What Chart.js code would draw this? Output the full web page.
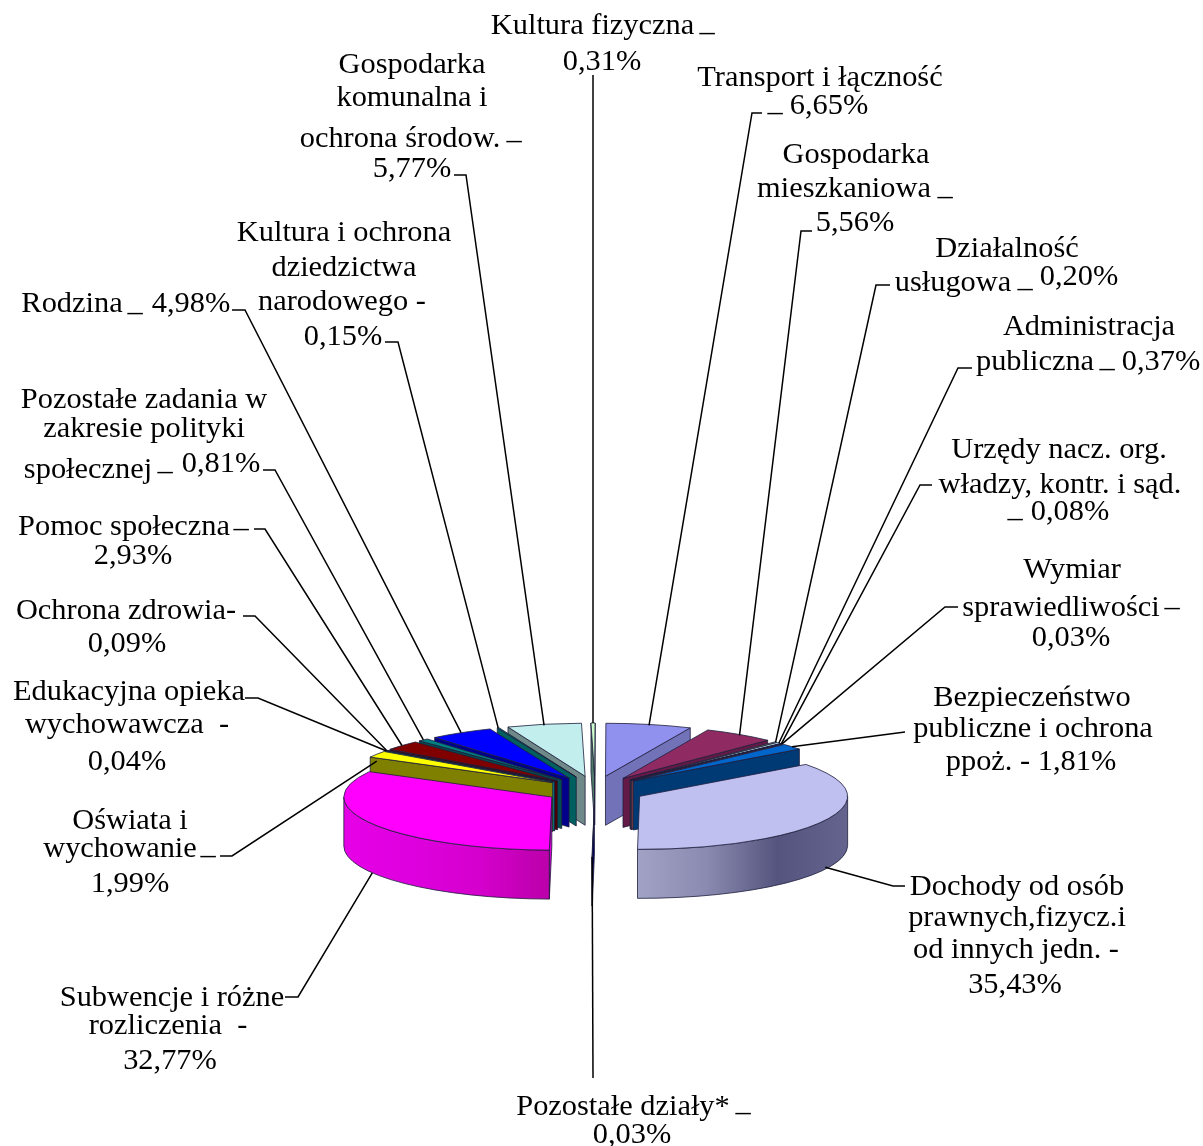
<!DOCTYPE html>
<html lang="pl">
<head>
<meta charset="utf-8">
<title>Struktura dochodów</title>
<style>
    html, body { margin: 0; padding: 0; background: #fff; }
    canvas { display: block; }
</style>
<script src="https://cdn.jsdelivr.net/npm/chart.js@4"></script>
</head>
<body>
<canvas id="chart1" width="1203" height="1146"></canvas>
<script>
const categories = [
    "Kultura fizyczna", "Transport i łączność", "Gospodarka mieszkaniowa", "Działalność usługowa",
    "Administracja publiczna", "Urzędy nacz. org. władzy, kontr. i sąd.", "Wymiar sprawiedliwości",
    "Bezpieczeństwo publiczne i ochrona ppoż.", "Dochody od osób prawnych,fizycz.i od innych jedn.",
    "Pozostałe działy*", "Subwencje i różne rozliczenia", "Oświata i wychowanie",
    "Edukacyjna opieka wychowawcza", "Ochrona zdrowia", "Pomoc społeczna",
    "Pozostałe zadania w zakresie polityki społecznej", "Rodzina",
    "Kultura i ochrona dziedzictwa narodowego", "Gospodarka komunalna i ochrona środow."
];
const shares = [0.31, 6.65, 5.56, 0.20, 0.37, 0.08, 0.03, 1.81, 35.43, 0.03, 32.77, 1.99, 0.04, 0.09, 2.93, 0.81, 4.98, 0.15, 5.77];

const topColors = [
    "#ccffcc", "#9090ee", "#8f2a62", "#ffffcc", "#ccffff", "#660066", "#ff8080", "#0066cc", "#bfbff0",
    "#000080", "#ff00ff", "#ffff00", "#00ffff", "#800080", "#800000", "#008080", "#0000ff", "#008080", "#c2eeee"
];
const wallColors = [
    "#4f7a6a", "#7272b8", "#641a46", "#808060", "#608080", "#400040", "#804040", "#003a75", "#8a8ab0",
    "#000060", "#d800d8", "#808000", "#008080", "#500050", "#4a0000", "#005050", "#00008c", "#005f5f", "#6f8888"
];
// outer wall shading left to right, only the two big slices show it
const wallShades = {
    8: ["#a2a2c6", "#8a8ab0", "#54547e", "#64648e"],
    10: ["#e600e6", "#de00de", "#d400cc", "#bb00aa"]
};

// stub next to the label: [x at text, y, x of elbow], one per slice
const leaderStubs = [
    [593, 75, 593], [762, 113, 752], [812, 231, 801], [890, 285, 876], [972, 368, 958], [932, 485, 920],
    [958, 607, 945], [905, 732, 905], [905, 886, 893], [593, 1078, 593], [285, 997, 298], [220, 856, 232],
    [245, 698, 258], [243, 616, 255], [254, 529, 265], [263, 470, 275], [232, 310, 245], [385, 342, 398],
    [454, 175, 466]
];
// how far down the wall a leader ends
const leaderDrop = [0, 1, 1, 0, 0, 0, 0, 0, 47, 0, 49, 7, 0, 0, 0, 0, 0, 0, 1];

// [text, center x, baseline]
const labelLines = [
    ["Kultura fizyczna", 592.5, 34], ["–", 707, 41], ["0,31%", 602, 70],
    ["Transport i łączność", 820, 86], ["–", 775, 121], ["6,65%", 829, 114],
    ["Gospodarka", 856, 163], ["mieszkaniowa", 844, 197], ["–", 945, 205], ["5,56%", 855, 231],
    ["Działalność", 1007, 257], ["usługowa", 953, 291], ["–", 1025, 297], ["0,20%", 1079, 285],
    ["Administracja", 1089, 335], ["publiczna", 1035, 370], ["–", 1107, 377], ["0,37%", 1161, 370],
    ["Urzędy nacz. org.", 1059, 458], ["władzy, kontr. i sąd.", 1060, 493], ["–", 1015, 527], ["0,08%", 1070, 520],
    ["Wymiar", 1072, 578], ["sprawiedliwości", 1061, 616], ["–", 1172, 616], ["0,03%", 1071, 646],
    ["Bezpieczeństwo", 1032, 706], ["publiczne i ochrona", 1033, 737], ["ppoż. - 1,81%", 1031, 770],
    ["Dochody od osób", 1017, 895], ["prawnych,fizycz.i", 1017, 926], ["od innych jedn. -", 1016, 958], ["35,43%", 1015, 993],
    ["Pozostałe działy*", 623, 1115], ["–", 743, 1121], ["0,03%", 632, 1143],
    ["Subwencje i różne", 172, 1006], ["rozliczenia  -", 168, 1034], ["32,77%", 170, 1069],
    ["Oświata i", 130, 829], ["wychowanie", 120, 857], ["–", 208, 864], ["1,99%", 130, 892],
    ["Edukacyjna opieka", 129, 700], ["wychowawcza  -", 127, 733], ["0,04%", 127, 770],
    ["Ochrona zdrowia-", 126, 619], ["0,09%", 127, 652],
    ["Pomoc społeczna", 124, 535], ["–", 241, 537], ["2,93%", 133, 564],
    ["Pozostałe zadania w", 144, 408], ["zakresie polityki", 144, 437], ["społecznej", 88, 478], ["–", 165, 480], ["0,81%", 221, 472],
    ["Rodzina", 72, 312], ["–", 135, 321], ["4,98%", 191, 312],
    ["Kultura i ochrona", 344, 241], ["dziedzictwa", 344, 276], ["narodowego -", 342, 310], ["0,15%", 343, 345],
    ["Gospodarka", 412, 73], ["komunalna i", 412, 106], ["ochrona środow.", 400, 147], ["–", 514, 149], ["5,77%", 412, 177]
];

const tilt = 0.255;
const explode = 50;
const explodeTilt = 0.28;
const depth = 49;
const outline = "rgba(30, 30, 60, 0.8)";

function sliceOrigin(arc) {
    const mid = (arc.startAngle + arc.endAngle) / 2;
    return {
        x: arc.x + Math.cos(mid) * explode,
        y: arc.y + Math.sin(mid) * explode * explodeTilt
    };
}

function drawRadialWall(ctx, o, angle, r, color) {
    const ex = o.x + Math.cos(angle) * r;
    const ey = o.y + Math.sin(angle) * r * tilt;
    ctx.beginPath();
    ctx.moveTo(o.x, o.y);
    ctx.lineTo(ex, ey);
    ctx.lineTo(ex, ey + depth);
    ctx.lineTo(o.x, o.y + depth);
    ctx.closePath();
    ctx.fillStyle = color;
    ctx.fill();
    ctx.stroke();
}

function drawOuterWall(ctx, o, from, to, r, i) {
    ctx.beginPath();
    ctx.save();
    ctx.translate(o.x, o.y);
    ctx.scale(1, tilt);
    ctx.arc(0, 0, r, from, to);
    ctx.restore();
    ctx.save();
    ctx.translate(o.x, o.y + depth);
    ctx.scale(1, tilt);
    ctx.arc(0, 0, r, to, from, true);
    ctx.restore();
    ctx.closePath();
    const shades = wallShades[i];
    if (shades) {
        const xs = [from, to].map((a) => o.x + Math.cos(a) * r);
        const g = ctx.createLinearGradient(Math.min(...xs), 0, Math.max(...xs), 0);
        shades.forEach((c, k) => g.addColorStop(k / (shades.length - 1), c));
        ctx.fillStyle = g;
    } else {
        ctx.fillStyle = wallColors[i];
    }
    ctx.fill();
    ctx.stroke();
}

function drawSlice(ctx, arc, i) {
    const o = sliceOrigin(arc);
    const r = arc.outerRadius;
    const {startAngle, endAngle} = arc;
    ctx.save();
    ctx.strokeStyle = outline;
    ctx.lineWidth = 1;
    ctx.lineJoin = "round";

    if (Math.cos(startAngle) < 0) drawRadialWall(ctx, o, startAngle, r, wallColors[i]);
    if (Math.cos(endAngle) > 0) drawRadialWall(ctx, o, endAngle, r, wallColors[i]);
    const from = Math.max(startAngle, 0);
    const to = Math.min(endAngle, Math.PI);
    if (to > from) drawOuterWall(ctx, o, from, to, r, i);

    // top face comes from the library, just squashed and moved out
    ctx.save();
    ctx.translate(o.x, o.y);
    ctx.scale(1, tilt);
    ctx.translate(-arc.x, -arc.y);
    arc.draw(ctx);
    ctx.beginPath();
    ctx.moveTo(arc.x, arc.y);
    ctx.arc(arc.x, arc.y, r, startAngle, endAngle);
    ctx.closePath();
    ctx.restore();
    ctx.stroke();
    ctx.restore();
}

const pie3d = {
    id: "pie3d",
    beforeDatasetDraw(chart) {
        const ctx = chart.ctx;
        const arcs = chart.getDatasetMeta(0).data;
        // back to front
        const order = arcs.map((arc, i) => i).sort((a, b) => {
            const ma = (arcs[a].startAngle + arcs[a].endAngle) / 2;
            const mb = (arcs[b].startAngle + arcs[b].endAngle) / 2;
            return Math.sin(ma) - Math.sin(mb);
        });
        order.forEach((i) => drawSlice(ctx, arcs[i], i));
        return false;
    },
    afterDraw(chart) {
        const ctx = chart.ctx;
        const arcs = chart.getDatasetMeta(0).data;
        ctx.save();
        ctx.strokeStyle = "#000";
        ctx.lineWidth = 1.5;
        arcs.forEach((arc, i) => {
            const o = sliceOrigin(arc);
            const mid = (arc.startAngle + arc.endAngle) / 2;
            const [x0, y0, x1] = leaderStubs[i];
            ctx.beginPath();
            ctx.moveTo(x0, y0);
            ctx.lineTo(x1, y0);
            ctx.lineTo(o.x + Math.cos(mid) * arc.outerRadius, o.y + Math.sin(mid) * arc.outerRadius * tilt + leaderDrop[i]);
            ctx.stroke();
        });
        ctx.fillStyle = "#000";
        ctx.font = "30.4px 'Liberation Serif'";
        ctx.textAlign = "center";
        ctx.textBaseline = "alphabetic";
        labelLines.forEach(([text, x, y]) => ctx.fillText(text, x, y));
        ctx.restore();
    }
};

new Chart(document.getElementById("chart1"), {
    type: "pie",
    data: {
        labels: categories,
        datasets: [{
            data: shares,
            backgroundColor: topColors,
            borderWidth: 0
        }]
    },
    options: {
        responsive: false,
        animation: false,
        rotation: -1,
        radius: 208,
        layout: { padding: { top: 434, right: 13 } },
        plugins: {
            legend: { display: false },
            tooltip: { enabled: false }
        }
    },
    plugins: [pie3d]
});
</script>
</body>
</html>
